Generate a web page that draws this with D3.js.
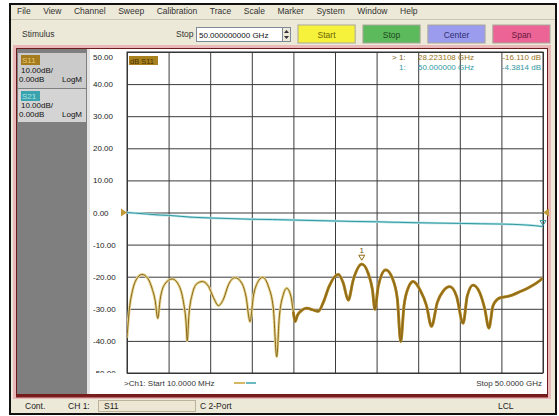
<!DOCTYPE html>
<html lang="en">
<head>
<meta charset="UTF-8" />
<title>VNA S11 / S21</title>
<style>
  body { margin: 0; background: #fff; }
  svg text { font-family: "Liberation Sans", Arial, sans-serif; }
</style>
</head>
<body>
<div id="chart"></div>
<script src="https://d3js.org/d3.v7.min.js"></script>
<script>
// ---- data ----
var menuItems = ["File", "View", "Channel", "Sweep", "Calibration", "Trace", "Scale", "Marker", "System", "Window", "Help"];
var buttonLabels = ["Start", "Stop", "Center", "Span"];
var buttonColors = ["#f6f23c", "#5cba5c", "#9c9cee", "#ec6496"];
var buttonText = ["#6a6400", "#1c4a1c", "#2c2c70", "#6a1838"];
var yTicks = [50, 40, 30, 20, 10, 0, -10, -20, -30, -40, -50];

// S11 (GHz, dB)
var s11Freq = [0.01, 0.3, 0.7, 1.1, 1.8, 2.5, 3.0, 3.4, 3.7, 4.0, 4.5, 5.45, 6.3, 6.8, 7.1, 7.25, 7.45, 7.9, 8.4, 9.05,
  9.8, 10.4, 11.0, 11.6, 12.2, 13.0, 13.8, 14.3, 14.8, 15.2, 15.7, 16.3, 17.0, 17.6, 18.0, 18.3, 18.8, 19.2, 19.7, 20.0,
  20.2, 20.5, 21.0, 21.6, 22.3, 23.0, 23.6, 24.3, 25.4, 26.0, 26.6, 27.2, 28.22, 29.0, 29.5, 29.8, 30.2, 31.1, 31.9, 32.5,
  32.9, 33.3, 33.8, 34.4, 35.3, 36.0, 36.6, 37.3, 38.0, 38.8, 39.6, 40.4, 40.9, 41.6, 42.4, 43.0, 43.5, 44.0, 44.8, 46.0,
  47.2, 48.2, 49.2, 50.0];
var s11dB = [-39, -30, -24, -21, -19.3, -20.5, -23.5, -27.5, -33, -27, -22.5, -20.7, -23, -28, -34, -40, -32, -25, -22.2, -21.5,
  -23, -26.5, -29, -27, -22.5, -20.3, -22, -26, -34, -26, -21.8, -20.2, -23, -30, -45, -33, -25.5, -23.6, -26, -31,
  -34, -32, -30.5, -29.8, -30.3, -30.8, -28, -23, -19.3, -22, -27.3, -21, -16.11, -19, -24, -30.2, -23, -17.9, -20.5, -27,
  -40.2, -29, -23.5, -21.5, -24.5, -29, -35.5, -28, -24.5, -23.1, -26, -34.5, -26, -22.6, -25, -30, -36, -29, -26.6, -26,
  -24.7, -23.5, -22, -20.4];

// S21 (GHz, dB)
var s21Freq = [0.01, 1, 2.5, 4, 5, 6.5, 8, 10, 12.5, 15, 17.5, 20, 22.5, 25, 27.5, 30, 32.5, 35, 37.5, 40, 42.5, 45, 46.5, 48, 49, 50];
var s21dB = [0, -0.2, -0.5, -0.8, -0.9, -1.2, -1.5, -1.7, -1.9, -2.1, -2.2, -2.35, -2.5, -2.65, -2.8, -2.9, -3.05, -3.2, -3.3, -3.4, -3.5, -3.6, -3.7, -3.9, -4.1, -4.38];

var marker1 = { f: 28.223108, s11: -16.110, s21f: 50.0, s21: -4.3814 };

// ---- page ----
var W = 559, H = 416;
var svg = d3.select("#chart").append("svg").attr("width", W).attr("height", H);

svg.append("rect").attr("width", W).attr("height", H).attr("fill", "#fff");
// application window
svg.append("rect").attr("x", 10).attr("y", 4).attr("width", 546).attr("height", 410)
  .attr("fill", "#ece9d8").attr("stroke", "#111").attr("stroke-width", 2);

// menu bar
var menu = svg.append("g").attr("font-size", 8.5).attr("fill", "#333");
var mx = 17, gap = 12.5;
menuItems.forEach(function(m) {
  var t = menu.append("text").attr("x", mx).attr("y", 14).text(m);
  mx += t.node().getComputedTextLength() + gap;
});
svg.append("line").attr("x1", 11).attr("x2", 555).attr("y1", 19.5).attr("y2", 19.5).attr("stroke", "#c9c6b6");

// stimulus toolbar
svg.append("text").attr("x", 22).attr("y", 37).attr("font-size", 8.5).attr("fill", "#333").text("Stimulus");
svg.append("text").attr("x", 176).attr("y", 37).attr("font-size", 8.5).attr("fill", "#333").text("Stop");
svg.append("rect").attr("x", 196.5).attr("y", 27.5).attr("width", 86).attr("height", 14)
  .attr("fill", "#fff").attr("stroke", "#7f8a99");
svg.append("text").attr("x", 199).attr("y", 38).attr("font-size", 8).attr("fill", "#111").text("50.000000000 GHz");
svg.append("rect").attr("x", 282.5).attr("y", 27.5).attr("width", 8).attr("height", 14)
  .attr("fill", "#ece9d8").attr("stroke", "#7f8a99");
svg.append("path").attr("d", "M284,33 L289,33 L286.5,30 Z M284,36 L289,36 L286.5,39 Z").attr("fill", "#333");

var bx = d3.scaleBand().domain(buttonLabels).range([298, 550]).paddingInner(0.12);
var btn = svg.append("g").selectAll("g").data(buttonLabels).enter().append("g");
btn.append("rect").attr("x", function(d) { return bx(d); }).attr("y", 25).attr("width", bx.bandwidth()).attr("height", 18)
  .attr("fill", function(d, i) { return buttonColors[i]; }).attr("stroke", "#a9a69a");
btn.append("text").attr("x", function(d) { return bx(d) + bx.bandwidth() / 2; }).attr("y", 37.5)
  .attr("text-anchor", "middle").attr("font-size", 8.5)
  .attr("fill", function(d, i) { return buttonText[i]; }).text(function(d) { return d; });

// channel window frame
svg.append("rect").attr("x", 13).attr("y", 45).attr("width", 538).attr("height", 354).attr("fill", "#e9b8b8");
svg.append("rect").attr("x", 16.5).attr("y", 48.5).attr("width", 531).attr("height", 346)
  .attr("fill", "#fff").attr("stroke", "#6a1c1c");
svg.append("line").attr("x1", 16).attr("x2", 548).attr("y1", 396).attr("y2", 396).attr("stroke", "#7a1c1c").attr("stroke-width", 3);

// left trace panel
svg.append("rect").attr("x", 17).attr("y", 49).attr("width", 70).attr("height", 345).attr("fill", "#7f7f7f");
svg.append("rect").attr("x", 18).attr("y", 53).attr("width", 68).attr("height", 35).attr("fill", "#cbcbcb");
svg.append("rect").attr("x", 18).attr("y", 89).attr("width", 68).attr("height", 33).attr("fill", "#d4d4d4");
svg.append("rect").attr("x", 87).attr("y", 49).attr("width", 3).attr("height", 345).attr("fill", "#e4e4e4");

var panel = svg.append("g").attr("font-size", 8).attr("fill", "#111");
panel.append("rect").attr("x", 21).attr("y", 55).attr("width", 19).attr("height", 10).attr("fill", "#a47c1e");
panel.append("text").attr("x", 22).attr("y", 63).attr("fill", "#e6c878").text("S11");
panel.append("text").attr("x", 21).attr("y", 73).text("10.00dB/");
panel.append("text").attr("x", 19).attr("y", 82).text("0.00dB");
panel.append("text").attr("x", 62).attr("y", 82).text("LogM");
panel.append("rect").attr("x", 21).attr("y", 91).attr("width", 19).attr("height", 10).attr("fill", "#3aa3ad");
panel.append("text").attr("x", 22).attr("y", 99).attr("fill", "#a8e4e8").text("S21");
panel.append("text").attr("x", 21).attr("y", 108).text("10.00dB/");
panel.append("text").attr("x", 19).attr("y", 117).text("0.00dB");
panel.append("text").attr("x", 62).attr("y", 117).text("LogM");

// ---- plot ----
var pLeft = 127, pRight = 543, pTop = 52, pBottom = 373;
var x = d3.scaleLinear().domain([0.01, 50]).range([pLeft, pRight]);
var y = d3.scaleLinear().domain([-50, 50]).range([pBottom, pTop]);
var xGrid = d3.range(11).map(function(i) { return 0.01 + i * (50 - 0.01) / 10; });

var defs = svg.append("defs");
defs.append("clipPath").attr("id", "plotclip")
  .append("rect").attr("x", pLeft).attr("y", pTop).attr("width", pRight - pLeft).attr("height", pBottom - pTop);
defs.append("clipPath").attr("id", "labclip")
  .append("rect").attr("x", -5).attr("y", pTop).attr("width", 40).attr("height", pBottom - pTop);

var grid = svg.append("g");
grid.append("g").attr("transform", "translate(0," + pBottom + ")")
  .call(d3.axisBottom(x).tickValues(xGrid).tickSize(-(pBottom - pTop)).tickFormat(""))
  .call(function(g) { g.select(".domain").remove(); g.selectAll("line").attr("stroke", "#3a3a3a"); });
grid.append("g").attr("transform", "translate(" + pLeft + ",0)")
  .call(d3.axisLeft(y).tickValues(yTicks).tickSize(-(pRight - pLeft)).tickFormat(""))
  .call(function(g) { g.select(".domain").remove(); g.selectAll("line").attr("stroke", "#3a3a3a"); });
svg.append("rect").attr("x", pLeft).attr("y", pTop).attr("width", pRight - pLeft).attr("height", pBottom - pTop)
  .attr("fill", "none").attr("stroke", "#333");

// y tick labels
svg.append("g").attr("transform", "translate(93,0)").append("g").attr("clip-path", "url(#labclip)")
  .call(d3.axisLeft(y).tickValues(yTicks).tickSize(0).tickFormat(function(d) { return d.toFixed(2); }))
  .call(function(g) {
    g.select(".domain").remove();
    g.selectAll("text").attr("x", 0).attr("text-anchor", "start").attr("font-size", 8)
      .attr("font-family", "Liberation Sans, Arial, sans-serif").attr("fill", "#222")
      .attr("dy", function(d) { return d === 50 ? "0.95em" : "0.32em"; });
  });

// traces
var s11 = s11Freq.map(function(f, i) { return [f, s11dB[i]]; });
var s21 = s21Freq.map(function(f, i) { return [f, s21dB[i]]; });
var line = d3.line().x(function(d) { return x(d[0]); }).y(function(d) { return y(d[1]); }).curve(d3.curveMonotoneX);
var traces = svg.append("g").attr("clip-path", "url(#plotclip)").attr("fill", "none");

traces.append("path").datum(s21).attr("d", line).attr("stroke", "#b4e2e4").attr("stroke-width", 2.4);
traces.append("path").datum(s21).attr("d", line).attr("stroke", "#2f98a2").attr("stroke-width", 1);

traces.append("path").datum(s11).attr("d", line).attr("stroke", "#e6d48e").attr("stroke-width", 2.8);
traces.append("path").datum(s11.filter(function(d) { return d[0] >= 20; })).attr("d", line)
  .attr("stroke", "#a87e1e").attr("stroke-width", 2.8);
traces.append("path").datum(s11).attr("d", line).attr("stroke", "#86641a").attr("stroke-width", 1);

// reference level arrows (0 dB)
svg.append("path").attr("d", "M121," + (y(0) - 4) + " L127," + y(0) + " L121," + (y(0) + 4) + " Z").attr("fill", "#c09a3a");
svg.append("path").attr("d", "M549," + (y(0) - 4) + " L543," + y(0) + " L549," + (y(0) + 4) + " Z").attr("fill", "#c09a3a");

// markers
var mX = x(marker1.f), mY = y(marker1.s11);
svg.append("path").attr("d", "M" + (mX - 3) + "," + (mY - 9) + " L" + (mX + 3) + "," + (mY - 9) + " L" + mX + "," + (mY - 4) + " Z")
  .attr("fill", "none").attr("stroke", "#8e6a14");
svg.append("text").attr("x", mX).attr("y", mY - 11).attr("text-anchor", "middle").attr("font-size", 8).attr("fill", "#6a4e10").text("1");
var sX = x(marker1.s21f), sY = y(marker1.s21);
svg.append("path").attr("d", "M" + (sX - 3) + "," + (sY - 6) + " L" + (sX + 3) + "," + (sY - 6) + " L" + sX + "," + (sY - 1) + " Z")
  .attr("fill", "none").attr("stroke", "#2f98a2");

// trace title
svg.append("rect").attr("x", 129).attr("y", 56).attr("width", 29).attr("height", 9).attr("fill", "#a8801e");
svg.append("text").attr("x", 130).attr("y", 63.5).attr("font-size", 7.5).attr("fill", "#4a3000").text("dB S11");

// marker readout
var ro = svg.append("g").attr("font-size", 8);
ro.append("text").attr("x", 392).attr("y", 60).attr("fill", "#7a5a14").text("> 1:");
ro.append("text").attr("x", 418).attr("y", 60).attr("fill", "#9a7418").text(marker1.f.toFixed(6) + " GHz");
ro.append("text").attr("x", 541).attr("y", 60).attr("text-anchor", "end").attr("fill", "#9a7418").text(marker1.s11.toFixed(3) + " dB");
ro.append("text").attr("x", 399).attr("y", 70).attr("fill", "#2f98a2").text("1:");
ro.append("text").attr("x", 418).attr("y", 70).attr("fill", "#2f98a2").text(marker1.s21f.toFixed(6) + " GHz");
ro.append("text").attr("x", 541).attr("y", 70).attr("text-anchor", "end").attr("fill", "#2f98a2").text(marker1.s21.toFixed(4) + " dB");

// sweep range footer
svg.append("text").attr("x", 124).attr("y", 386).attr("font-size", 8).attr("fill", "#333").text(">Ch1: Start  10.0000 MHz");
svg.append("line").attr("x1", 234).attr("x2", 245).attr("y1", 383).attr("y2", 383).attr("stroke", "#c8a030").attr("stroke-width", 1.5);
svg.append("line").attr("x1", 246).attr("x2", 256).attr("y1", 383).attr("y2", 383).attr("stroke", "#3aa3ad").attr("stroke-width", 1.5);
svg.append("text").attr("x", 542).attr("y", 386).attr("text-anchor", "end").attr("font-size", 8).attr("fill", "#333").text("Stop  50.0000 GHz");

// status bar
var sb = svg.append("g").attr("font-size", 8.5).attr("fill", "#222");
sb.append("text").attr("x", 25).attr("y", 409).text("Cont.");
sb.append("text").attr("x", 68).attr("y", 409).text("CH 1:");
sb.append("rect").attr("x", 98.5).attr("y", 400.5).attr("width", 97).attr("height", 11).attr("fill", "#ede6d2").attr("stroke", "#bcb39a");
sb.append("text").attr("x", 104).attr("y", 409).text("S11");
sb.append("text").attr("x", 200).attr("y", 409).text("C  2-Port");
sb.append("text").attr("x", 498).attr("y", 409).text("LCL");
</script>
</body>
</html>
